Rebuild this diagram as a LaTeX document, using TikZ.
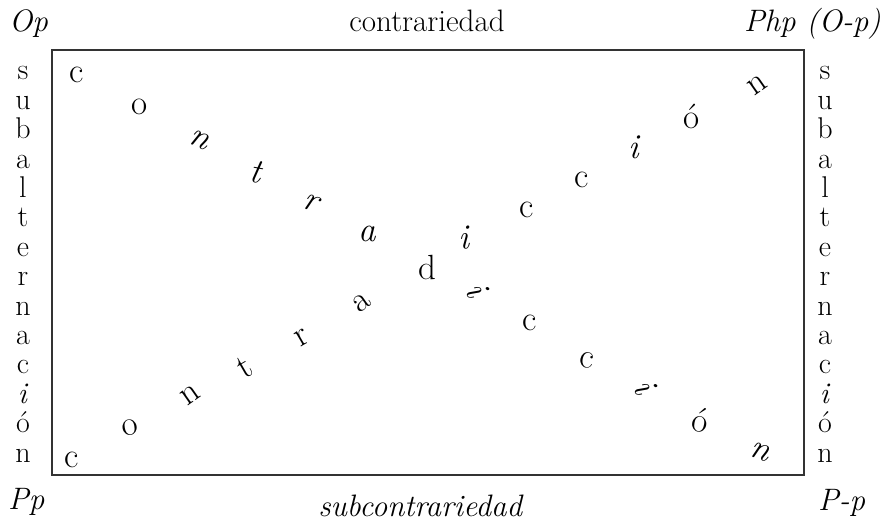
\documentclass[tikz,border=0pt]{standalone}
\usepackage{fontspec}
\begin{document}
\begin{tikzpicture}[x=1pt,y=-1pt,
  lbl/.style={inner sep=0pt,font=\fontsize{31}{34}\selectfont},
  side/.style={inner sep=0pt,anchor=base,font=\fontsize{30}{34}\selectfont},
  dg/.style={inner sep=0pt,anchor=center,font=\fontsize{35}{38}\selectfont},
  frame/.style={line width=1.2pt,draw=black!80}]
\useasboundingbox (0,0) rectangle (884,526);
% frame
\coordinate (tl) at (52,50);
\coordinate (br) at (804,475);
\draw[frame] (tl) rectangle (br);
% corner labels
\node[lbl,anchor=base west] (op) at (9,32) {\textit{Op}};
\node[lbl,anchor=base east] (php) at (881,32) {\textit{Php (O-p)}};
\node[lbl,anchor=base west] (pp) at (8,509) {\textit{Pp}};
\node[lbl,anchor=base west] (pmp) at (818,511) {\textit{P-p}};
\node[lbl,anchor=base] (contr) at (427,32) {contrariedad};
\node[lbl,anchor=base] (subc) at (421,517) {\textit{subcontrariedad}};
% side columns
\foreach \l [count=\k from 0] in {s,u,b,a,l,t,e,r,n,a,c,\textit{i},ó,n}{
  \node[side] (L\k) at (23,80+29.4*\k) {\l};
  \node[side] (R\k) at (825,80+29.4*\k) {\l};
}
% diagonal 1 (top-left to bottom-right)
\node[dg] (a1) at (77,75) {c};
\node[dg] (a2) at (140,107) {o};
\node[dg,rotate=-25] (a3) at (200,140) {\textit{n}};
\node[dg,rotate=-10] (a4) at (257,172) {\textit{t}};
\node[dg,rotate=-20] (a5) at (312,203) {\textit{r}};
\node[dg] (a6) at (367,234) {\textit{a}};
\node[dg] (d) at (427,267) {d};
\node[dg,rotate=-60] (a8) at (477,290) {\textit{i}};
\node[dg] (a9) at (530,323) {c};
\node[dg,rotate=-10] (a10) at (587,360) {c};
\node[dg,rotate=-60] (a11) at (645,387) {\textit{i}};
\node[dg,rotate=-10] (a12) at (700,420) {ó};
\node[dg,rotate=-20] (a13) at (760,452) {\textit{n}};
% diagonal 2 (bottom-left to top-right)
\node[dg] (b1) at (72,460) {c};
\node[dg,rotate=10] (b2) at (130,428) {o};
\node[dg,rotate=35] (b3) at (190,395) {n};
\node[dg,rotate=30] (b4) at (245,367) {t};
\node[dg,rotate=30] (b5) at (302,338) {r};
\node[dg,rotate=35] (b6) at (362,303) {a};
\node[dg,rotate=5] (b8) at (465,238) {\textit{i}};
\node[dg] (b9) at (527,210) {c};
\node[dg] (b10) at (582,180) {c};
\node[dg] (b11) at (635,147) {\textit{i}};
\node[dg] (b12) at (692,116) {ó};
\node[dg,rotate=35] (b13) at (757,85) {n};
\end{tikzpicture}
\end{document}
